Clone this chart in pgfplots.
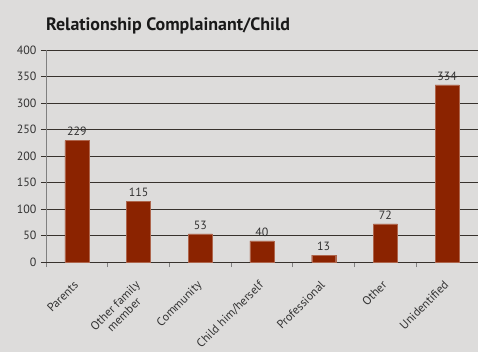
\documentclass[border=0pt]{standalone}
\usepackage{pgfplots}
\pgfplotsset{compat=1.18}
\usepackage{fontspec}
\setmainfont{PT Sans}
\definecolor{bg}{RGB}{221,220,219}
\definecolor{barc}{RGB}{139,35,0}
\definecolor{gridc}{RGB}{55,50,45}
\begin{document}
\begin{tikzpicture}
\fill[bg] (-46bp,-90bp) rectangle (432bp,262bp);
\useasboundingbox (-46bp,-90bp) rectangle (432bp,262bp);
\node[anchor=base west, inner sep=0pt, font=\bfseries\fontsize{18}{20}\selectfont, text=black!90] at (0bp,231bp) {Relationship Complainant/Child};
\begin{axis}[at={(0,0)}, anchor=south west, scale only axis,
  width=432bp, height=212bp,
  xmin=-0.5, xmax=6.5, ymin=0, ymax=400,
  ytick={0,50,...,400},
  xtick={0,...,6},
  xticklabels={Parents,{Other family\\member},Community,Child him/herself,Professional,Other,Unidentified},
  minor xtick={-0.5,0.5,...,6.5},
  axis x line=bottom, axis y line=left,
  x axis line style={-, draw=gridc, line width=0.8pt},
  y axis line style={-, draw=gray, line width=0.8pt},
  tick align=outside,
  major tick length=5bp, minor tick length=5bp,
  x tick style={draw=none},
  minor x tick style={draw=gray, line width=0.8pt},
  y tick style={draw=gridc, line width=0.8pt},
  ymajorgrids, major grid style={draw=gridc, line width=0.8pt},
  /pgf/number format/assume math mode=true,
  ticklabel style={font=\fontsize{12}{12.5}\selectfont, text=black!80},
  xticklabel style={xshift=-4bp, yshift=-8bp, rotate=45, anchor=north east, align=center},
  yticklabel style={xshift=-1bp},
  ybar, bar width=24bp,
  nodes near coords,
  every node near coord/.append style={font=\fontsize{12}{13}\selectfont, text=black!80, yshift=1bp},
  clip=false,
]
\addplot[fill=barc, draw=barc!70!white] coordinates {(0,229) (1,115) (2,53) (3,40) (4,13) (5,72) (6,334)};
\end{axis}
\end{tikzpicture}
\end{document}
